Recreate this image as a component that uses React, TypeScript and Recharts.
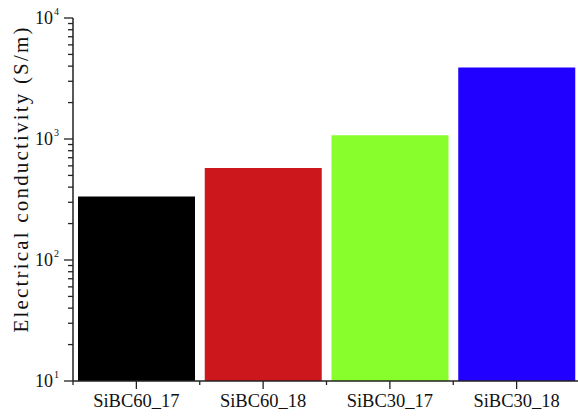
import { BarChart, Bar, XAxis, YAxis, Cell } from "recharts";

const samples = ["SiBC60_17", "SiBC60_18", "SiBC30_17", "SiBC30_18"];
const conductivity = [335, 575, 1075, 3900];
const barColors = ["#000000", "#cc181c", "#88ff2c", "#2200ff"];

const majorTicks = [10, 100, 1000, 10000];
const minorTicks = [
  20, 30, 40, 50, 60, 70, 80, 90,
  200, 300, 400, 500, 600, 700, 800, 900,
  2000, 3000, 4000, 5000, 6000, 7000, 8000, 9000,
];
const exponents: Record<number, string> = { 10: "1", 100: "2", 1000: "3", 10000: "4" };

const data = samples.map((name, i) => ({ name, value: conductivity[i] }));

const W = 582;
const H = 418;
const LEFT = 73;
const RIGHT = 2;
const BAND = (W - LEFT - RIGHT) / samples.length;
const AXIS = "#222";
const FONT = "'Liberation Serif', 'Times New Roman', serif";

function YTick(props: any) {
  const { x, y, payload } = props;
  const v = payload.value;
  const major = majorTicks.includes(v);
  return (
    <g>
      <line x1={x - (major ? 9 : 5)} x2={x} y1={y} y2={y} stroke={AXIS} strokeWidth={1.3} />
      {major && (
        <text x={x - 14} y={y + 6} textAnchor="end" fontFamily={FONT} fontSize={18} fill="#111">
          10
          <tspan dx={1} dy={-9} fontSize={10}>{exponents[v]}</tspan>
        </text>
      )}
    </g>
  );
}

function XTick(props: any) {
  const { x, y, payload } = props;
  return (
    <g>
      <line x1={x - BAND / 2} x2={x - BAND / 2} y1={y} y2={y + 4} stroke={AXIS} strokeWidth={1.3} />
      <line x1={x} x2={x} y1={y} y2={y + 8} stroke={AXIS} strokeWidth={1.3} />
      <text x={x} y={y + 26} textAnchor="middle" fontFamily={FONT} fontSize={18.5} fill="#111">
        {payload.value}
      </text>
    </g>
  );
}

export default function App() {
  return (
    <div style={{ position: "absolute", left: 0, top: 0, width: 578, height: 418, overflow: "hidden", background: "#fff" }}>
      <BarChart
        width={W}
        height={H}
        data={data}
        margin={{ top: 18, right: RIGHT, left: 0, bottom: 0 }}
        barCategoryGap={5}
      >
        <XAxis
          dataKey="name"
          height={37}
          tick={<XTick />}
          tickLine={false}
          tickSize={0}
          tickMargin={0}
          interval={0}
          axisLine={{ stroke: AXIS, strokeWidth: 1.5 }}
        />
        <YAxis
          type="number"
          scale="log"
          domain={[10, 10000]}
          allowDataOverflow
          ticks={[...majorTicks, ...minorTicks]}
          interval={0}
          width={LEFT}
          tick={<YTick />}
          tickLine={false}
          tickSize={0}
          tickMargin={0}
          axisLine={{ stroke: AXIS, strokeWidth: 1.5 }}
          label={{
            content: () => (
              <text
                x={0}
                y={0}
                transform="translate(28, 180) rotate(-90)"
                textAnchor="middle"
                fontFamily={FONT}
                fontSize={21}
                fill="#111"
                textLength={305}
                lengthAdjust="spacing"
              >
                Electrical conductivity (S/m)
              </text>
            ),
          }}
        />
        <Bar dataKey="value" isAnimationActive={false}>
          {data.map((d, i) => (
            <Cell key={d.name} fill={barColors[i]} />
          ))}
        </Bar>
      </BarChart>
    </div>
  );
}
